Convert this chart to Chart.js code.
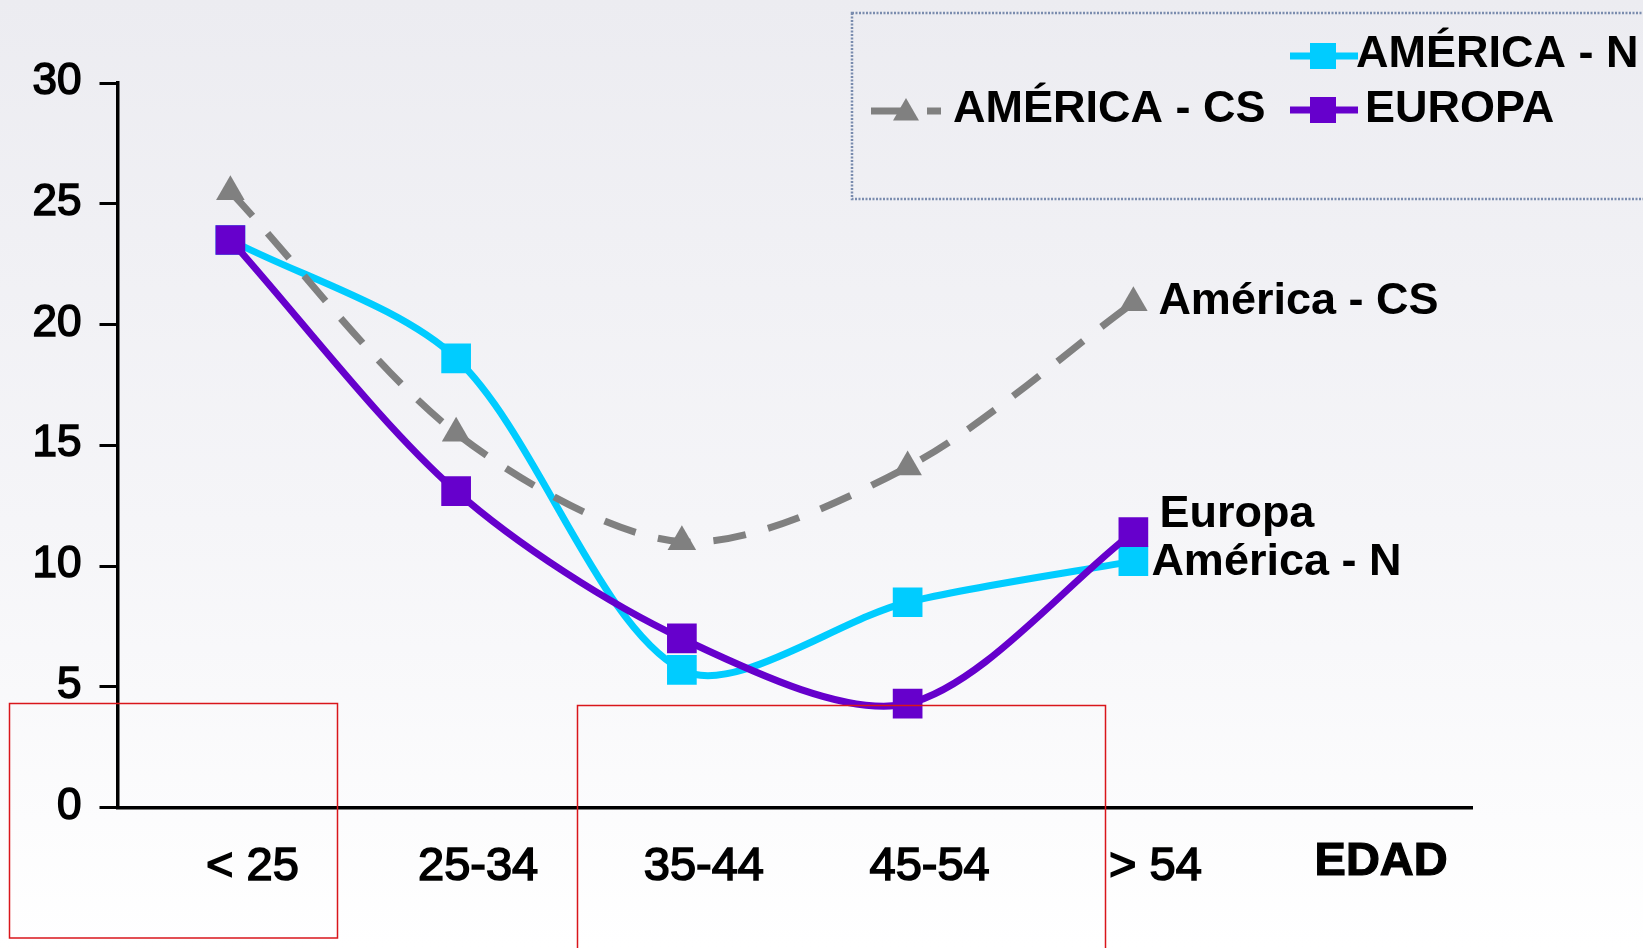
<!DOCTYPE html>
<html>
<head>
<meta charset="utf-8">
<title>Tasa por edad</title>
<script src="https://cdn.jsdelivr.net/npm/chart.js@4/dist/chart.umd.min.js"></script>
<style>
  html, body { margin: 0; padding: 0; }
  body {
    width: 1643px; height: 948px; overflow: hidden;
    background: linear-gradient(to bottom, #ececf1 0%, #f5f5f8 55%, #ffffff 100%);
  }
  canvas { display: block; }
</style>
</head>
<body>
<canvas id="chart" width="1643" height="948"></canvas>
<script>
// Age groups on the x axis, plus the axis caption shown in the last slot
const categories = ['< 25', '25-34', '35-44', '45-54', '> 54'];
const axisCaption = 'EDAD';

// Values per region
const americaCS = [25.5, 15.5, 11.0, 14.1, 20.9];
const europa    = [23.5, 13.1, 7.0, 4.3, 11.4];
const americaN  = [23.5, 18.6, 5.7, 8.5, 10.2];

// Y axis range
const yMin = 0, yMax = 30, yStep = 5;

// Legend / end-label texts
const legendNames = { cs: 'AMÉRICA - CS', eu: 'EUROPA', n: 'AMÉRICA - N' };
const endNames    = { cs: 'América - CS', eu: 'Europa', n: 'América - N' };

const FONT = '"Liberation Sans", Arial, Helvetica, sans-serif';
const CYAN = '#00CCFF', PURPLE = '#6600CC', GRAY = '#808080';
const DASH = [33, 23];

// Labels written next to the last point of each series
const endLabelPlugin = {
  id: 'endLabels',
  afterDatasetsDraw(chart) {
    const ctx = chart.ctx;
    ctx.save();
    ctx.font = 'bold 45px ' + FONT;
    ctx.fillStyle = '#000';
    ctx.textBaseline = 'alphabetic';
    ctx.textAlign = 'left';
    chart.data.datasets.forEach((ds, i) => {
      const lab = ds.endLabel;
      if (!lab) return;
      const pts = chart.getDatasetMeta(i).data;
      const p = pts[ds.data.length - 1];
      ctx.fillText(lab.text, p.x + lab.dx, p.y + lab.dy);
    });
    ctx.restore();
  }
};

// Framed legend in the top right corner
const legendBoxPlugin = {
  id: 'legendBox',
  afterDraw(chart) {
    const ctx = chart.ctx;
    const H = Chart.helpers;
    ctx.save();
    ctx.setLineDash([2, 1.5]);
    ctx.strokeStyle = '#7a8cae';
    ctx.lineWidth = 2.5;
    ctx.strokeRect(852, 13, 900, 186);

    const items = [
      { ds: 2, x0: 1290, x1: 1358, y: 56,  mx: 1323, tx: 1356, ty: 67,  text: legendNames.n },
      { ds: 1, x0: 871,  x1: 941,  y: 111, mx: 906,  tx: 953,  ty: 122, text: legendNames.cs },
      { ds: 0, x0: 1290, x1: 1358, y: 110, mx: 1323, tx: 1365, ty: 122, text: legendNames.eu }
    ];
    items.forEach(it => {
      const ds = chart.data.datasets[it.ds];
      ctx.setLineDash(ds.borderDash || []);
      ctx.strokeStyle = ds.borderColor;
      ctx.lineWidth = ds.borderWidth;
      ctx.beginPath();
      ctx.moveTo(it.x0, it.y);
      ctx.lineTo(it.x1, it.y);
      ctx.stroke();
      ctx.setLineDash([]);
      ctx.fillStyle = ds.backgroundColor;
      ctx.strokeStyle = ds.borderColor;
      const r = ds.pointStyle === 'triangle' ? 15 : 18.4;
      H.drawPoint(ctx, { pointStyle: ds.pointStyle, radius: r, borderWidth: 0, rotation: 0 }, it.mx, ds.pointStyle === 'triangle' ? it.y + 2 : it.y);
      ctx.fillStyle = '#000';
      ctx.font = 'bold 45px ' + FONT;
      ctx.textBaseline = 'alphabetic';
      ctx.textAlign = 'left';
      ctx.fillText(it.text, it.tx, it.ty);
    });
    ctx.restore();
  }
};

// Thin red frames drawn over the plot
const frameBoxesPlugin = {
  id: 'frameBoxes',
  afterDraw(chart) {
    const ctx = chart.ctx;
    ctx.save();
    ctx.strokeStyle = '#d9161b';
    ctx.lineWidth = 1.5;
    ctx.strokeRect(9.5, 703.5, 328, 234.5);
    ctx.strokeRect(577.5, 705.5, 528, 260);
    ctx.restore();
  }
};

function lineSeries(label, data, color, style, extra) {
  return Object.assign({
    label, data,
    borderColor: color,
    backgroundColor: color,
    borderWidth: 7,
    pointStyle: style,
    pointRadius: style === 'triangle' ? 16.5 : 21,
    pointHoverRadius: style === 'triangle' ? 16.5 : 21,
    pointBorderWidth: 0,
    pointBackgroundColor: color,
    tension: 0.3,
    fill: false
  }, extra || {});
}

const isCaption = (c) => c.index === categories.length;

new Chart(document.getElementById('chart'), {
  type: 'line',
  data: {
    labels: [...categories, axisCaption],
    datasets: [
      lineSeries('Europa', europa, PURPLE, 'rect',
        { endLabel: { text: endNames.eu, dx: 26, dy: -5 } }),
      lineSeries('América - CS', americaCS, GRAY, 'triangle',
        { borderDash: DASH, endLabel: { text: endNames.cs, dx: 25, dy: 11 } }),
      lineSeries('América - N', americaN, CYAN, 'rect',
        { endLabel: { text: endNames.n, dx: 18, dy: 14 } })
    ]
  },
  options: {
    responsive: false,
    animation: false,
    devicePixelRatio: 1,
    layout: { padding: { top: 83, right: 171, bottom: 0, left: 0 } },
    plugins: {
      legend: { display: false },
      tooltip: { enabled: false }
    },
    events: [],
    scales: {
      x: {
        type: 'category',
        offset: true,
        grid: { display: false, drawTicks: false },
        border: { display: true, color: '#000', width: 3.5 },
        ticks: {
          color: '#000',
          textStrokeColor: '#000',
          textStrokeWidth: (c) => isCaption(c) ? 1.2 : 1.6,
          padding: 31,
          labelOffset: 22,
          maxRotation: 0,
          autoSkip: false,
          font: (c) => isCaption(c)
            ? { family: FONT, size: 47, weight: 'bold', lineHeight: 1.0 }
            : { family: FONT, size: 47, weight: 'normal' }
        },
        afterFit(scale) { scale.height = 140.5; }
      },
      y: {
        min: yMin, max: yMax,
        grid: { drawOnChartArea: false, drawTicks: true, tickLength: 18, color: '#000', lineWidth: 3 },
        border: { display: true, color: '#000', width: 3.5 },
        ticks: {
          stepSize: yStep,
          color: '#000',
          textStrokeColor: '#000',
          textStrokeWidth: 1.6,
          padding: 18,
          labelOffset: -1,
          font: { family: FONT, size: 44, weight: 'normal' }
        },
        afterFit(scale) { scale.width = 117.5; }
      }
    }
  },
  plugins: [endLabelPlugin, legendBoxPlugin, frameBoxesPlugin]
});
</script>
</body>
</html>
